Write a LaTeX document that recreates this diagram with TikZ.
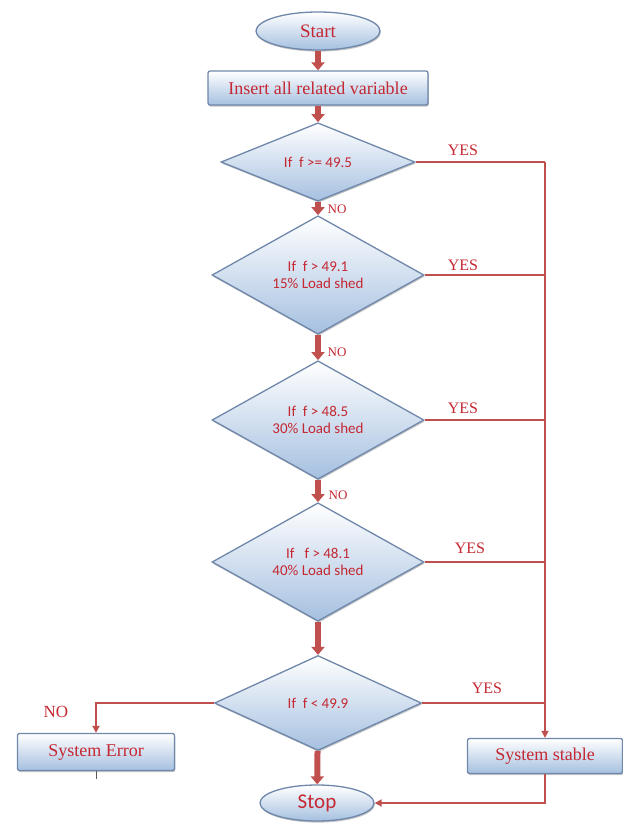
\documentclass[tikz,border=0pt]{standalone}
\usepackage{fontspec}
\setmainfont{Liberation Serif}
\newfontfamily\calibri{Carlito}
\usetikzlibrary{shapes.geometric,arrows.meta,shadows}

\definecolor{flowred}{RGB}{192,80,77}
\definecolor{labelred}{RGB}{196,40,50}
\definecolor{boxedge}{RGB}{110,135,170}
\definecolor{boxfill}{RGB}{165,192,224}

\begin{document}
\begin{tikzpicture}[x=1pt,y=-1pt,
    shape fill/.style={draw=boxedge, line width=1.3pt, top color=white, bottom color=boxfill, text=labelred,
        drop shadow={shadow xshift=0.8pt, shadow yshift=-1.6pt, opacity=0.45}},
    terminal/.style={shape fill, ellipse, minimum width=124pt, minimum height=38pt, inner sep=0pt},
    stepbox/.style={shape fill, rectangle, rounded corners=2pt, minimum height=34pt, inner sep=0pt, font=\fontsize{18}{20}\selectfont},
    decision/.style={shape fill, diamond, inner sep=0pt, align=center, font=\calibri\fontsize{15}{17}\selectfont},
    flow/.style={draw=flowred, line width=6pt, -{Triangle[width=13pt,length=8pt]}},
    yesline/.style={draw=flowred, line width=1.8pt},
    yesarrow/.style={yesline, -{Triangle[width=7pt,length=7pt]}},
    yeslabel/.style={text=labelred, font=\fontsize{16}{18}\selectfont},
    nolabel/.style={text=labelred, font=\fontsize{13}{15}\selectfont}]
    \useasboundingbox (0,0) rectangle (623,825);

    % Start and first step
    \node[terminal, font=\fontsize{19}{21}\selectfont] (start) at (318,31) {Start};
    \node[stepbox, minimum width=220pt] (insert) at (318,88) {Insert all related variable};

    % Decisions
    \node[decision, minimum width=194pt, minimum height=50pt] (d1) at (318,162) {If~~f >= 49.5};
    \node[decision, minimum width=212pt, minimum height=106pt] (d2) at (318,275) {If~~f > 49.1\\15\% Load shed};
    \node[decision, minimum width=212pt, minimum height=105pt] (d3) at (318,420) {If~~f > 48.5\\30\% Load shed};
    \node[decision, minimum width=212pt, minimum height=100pt] (d4) at (318,562) {If~~~f > 48.1\\40\% Load shed};
    \node[decision, minimum width=207pt, minimum height=95pt] (d5) at (318,703) {If~~f < 49.9};

    % End boxes
    \node[stepbox, minimum width=157pt, minimum height=37pt] (error) at (96,752) {System Error};
    \node[stepbox, minimum width=155pt, minimum height=35pt] (stable) at (545,756) {System stable};
    \node[terminal, minimum width=114pt, minimum height=36pt, font=\calibri\fontsize{21}{23}\selectfont] (stop) at (317,803) {Stop};

    % Main flow
    \draw[flow] (start) -- (insert);
    \draw[flow] (insert) -- (d1);
    \draw[flow] (d1) -- (d2);
    \draw[flow] (d2) -- (d3);
    \draw[flow] (d3) -- (d4);
    \draw[flow] (d4) -- (d5);
    \draw[flow] (d5) -- (stop);

    \node[nolabel] (no1) at (337,209) {NO};
    \node[nolabel] (no2) at (337,352) {NO};
    \node[nolabel] (no3) at (338,495) {NO};

    % YES branches
    \coordinate (j1) at (stable.north |- d1.east);
    \draw[yesline] (d1.east) -- (j1);
    \draw[yesline] (d2.east) -- (d2.east -| j1);
    \draw[yesline] (d3.east) -- (d3.east -| j1);
    \draw[yesline] (d4.east) -- (d4.east -| j1);
    \draw[yesline] (d5.east) -- (d5.east -| j1);
    \draw[yesarrow] (j1) -- (stable.north);

    \node[yeslabel] (yes1) at (463,150) {YES};
    \node[yeslabel] (yes2) at (463,265) {YES};
    \node[yeslabel] (yes3) at (463,408) {YES};
    \node[yeslabel] (yes4) at (470,548) {YES};
    \node[yeslabel] (yes5) at (487,688) {YES};

    % NO branch and return
    \draw[yesarrow] (d5.west) -| (error.north);
    \node[yeslabel, font=\fontsize{17}{19}\selectfont] (no5) at (56,712) {NO};
    \draw[yesarrow] (stable.south) |- (stop.east);
    \draw[draw=gray!70!black, line width=0.8pt] (error.south) -- ++(0,8);
\end{tikzpicture}
\end{document}
